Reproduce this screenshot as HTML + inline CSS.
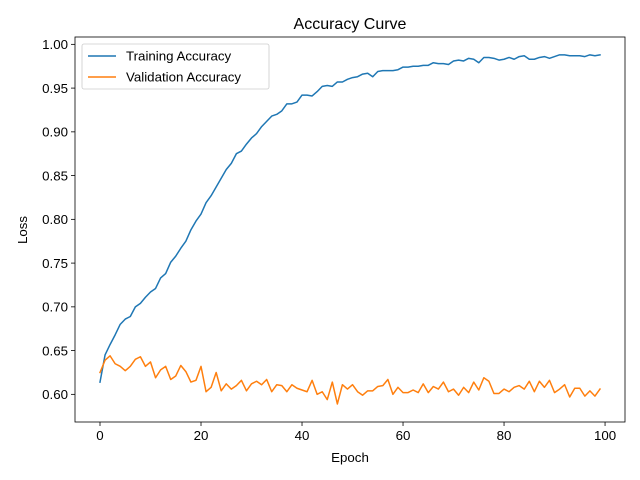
<!DOCTYPE html>
<html><head><meta charset="utf-8"><style>
body{margin:0;background:#fff;}
svg{display:block;font-family:"Liberation Sans","DejaVu Sans",sans-serif;}
</style></head><body>
<svg id="chart" width="640" height="480" viewBox="0 0 640 480"></svg>
<script>
const epochs = Array.from({length:100},(_,i)=>i);
const trainAcc = [0.614,0.645,0.657,0.668,0.680,0.686,0.689,0.700,0.704,0.711,0.717,0.721,0.733,0.738,0.751,0.758,0.767,0.775,0.788,0.798,0.806,0.819,0.827,0.837,0.847,0.857,0.864,0.875,0.878,0.886,0.893,0.898,0.906,0.912,0.918,0.920,0.924,0.932,0.932,0.934,0.942,0.942,0.941,0.946,0.952,0.953,0.952,0.957,0.957,0.960,0.962,0.963,0.966,0.967,0.963,0.969,0.970,0.970,0.970,0.971,0.974,0.974,0.975,0.975,0.976,0.976,0.979,0.978,0.978,0.977,0.981,0.982,0.981,0.984,0.983,0.979,0.985,0.985,0.984,0.982,0.983,0.985,0.983,0.986,0.987,0.983,0.983,0.985,0.986,0.984,0.986,0.988,0.988,0.987,0.987,0.987,0.986,0.988,0.987,0.988];
const valAcc = [0.625,0.639,0.644,0.635,0.632,0.627,0.632,0.640,0.643,0.632,0.637,0.619,0.628,0.632,0.617,0.621,0.633,0.626,0.614,0.616,0.632,0.603,0.608,0.625,0.604,0.612,0.606,0.610,0.616,0.604,0.612,0.615,0.611,0.617,0.603,0.611,0.610,0.603,0.611,0.607,0.605,0.603,0.616,0.600,0.603,0.594,0.614,0.589,0.611,0.606,0.611,0.603,0.599,0.604,0.604,0.609,0.610,0.617,0.600,0.608,0.602,0.602,0.605,0.602,0.612,0.602,0.609,0.606,0.614,0.603,0.606,0.599,0.608,0.602,0.614,0.605,0.619,0.615,0.601,0.601,0.606,0.603,0.608,0.610,0.606,0.615,0.603,0.615,0.608,0.616,0.602,0.606,0.611,0.597,0.607,0.607,0.598,0.604,0.598,0.606];
const xTicks = [0,20,40,60,80,100];
const yTicks = [0.60,0.65,0.70,0.75,0.80,0.85,0.90,0.95,1.00];

const L=75,R=625,T=37,B=422;
const xMin=-4.95,xMax=103.95,yMin=0.5684,yMax=1.0084;
const sx=v=>L+(v-xMin)/(xMax-xMin)*(R-L);
const sy=v=>B-(v-yMin)/(yMax-yMin)*(B-T);
const NS="http://www.w3.org/2000/svg";
const svg=document.getElementById('chart');
function mk(tag,attrs,parent){const e=document.createElementNS(NS,tag);for(const k in attrs)e.setAttribute(k,attrs[k]);(parent||svg).appendChild(e);return e;}

const title=mk('text',{x:350,y:29,'text-anchor':'middle','font-size':16,fill:'#000'});


title.textContent='Accuracy Curve';

xTicks.forEach(t=>{
  const g=mk('g',{});
  
  
  mk('line',{x1:sx(t),x2:sx(t),y1:B,y2:B+4,stroke:'#000','stroke-width':0.8},g);
  const tx=mk('text',{x:sx(t),y:B+18,'text-anchor':'middle','font-size':13.3,fill:'#000'},g);
  tx.textContent=t;
});
yTicks.forEach(t=>{
  const g=mk('g',{});
  
  
  mk('line',{x1:L-4,x2:L,y1:sy(t),y2:sy(t),stroke:'#000','stroke-width':0.8},g);
  const tx=mk('text',{x:L-7,y:sy(t)+4.7,'text-anchor':'end','font-size':13.3,fill:'#000'},g);
  tx.textContent=t.toFixed(2);
});

function series(vals,color,name){
  const d=vals.map((v,i)=>(i?'L':'M')+sx(epochs[i]).toFixed(2)+','+sy(v).toFixed(2)).join('');
  const p=mk('path',{d:d,fill:'none',stroke:color,'stroke-width':1.5,'stroke-linejoin':'round','stroke-linecap':'square'});
  
  
}
series(trainAcc,'#1f77b4','training-accuracy-line');
series(valAcc,'#ff7f0e','validation-accuracy-line');

const frame=mk('rect',{x:L,y:T,width:R-L,height:B-T,fill:'none',stroke:'#000','stroke-width':0.8});



const xl=mk('text',{x:350,y:462,'text-anchor':'middle','font-size':13.3,fill:'#000'});


xl.textContent='Epoch';
const yl=mk('text',{x:0,y:0,'text-anchor':'middle','font-size':13.3,fill:'#000',transform:'translate(27,230) rotate(-90)'});


yl.textContent='Loss';

const leg=mk('g',{});


mk('rect',{x:82,y:44,width:187,height:45,rx:2,fill:'#fff','fill-opacity':0.8,stroke:'#ccc','stroke-width':0.8},leg);
[['Training Accuracy','#1f77b4',56],['Validation Accuracy','#ff7f0e',77]].forEach(([lab,c,y],i)=>{
  const e=mk('g',{},leg);
  
  
  mk('line',{x1:88,x2:116,y1:y,y2:y,stroke:c,'stroke-width':1.5},e);
  const t=mk('text',{x:126,y:y+4.7,'font-size':13.3,fill:'#000'},e);
  t.textContent=lab;
});
</script>
</body></html>
